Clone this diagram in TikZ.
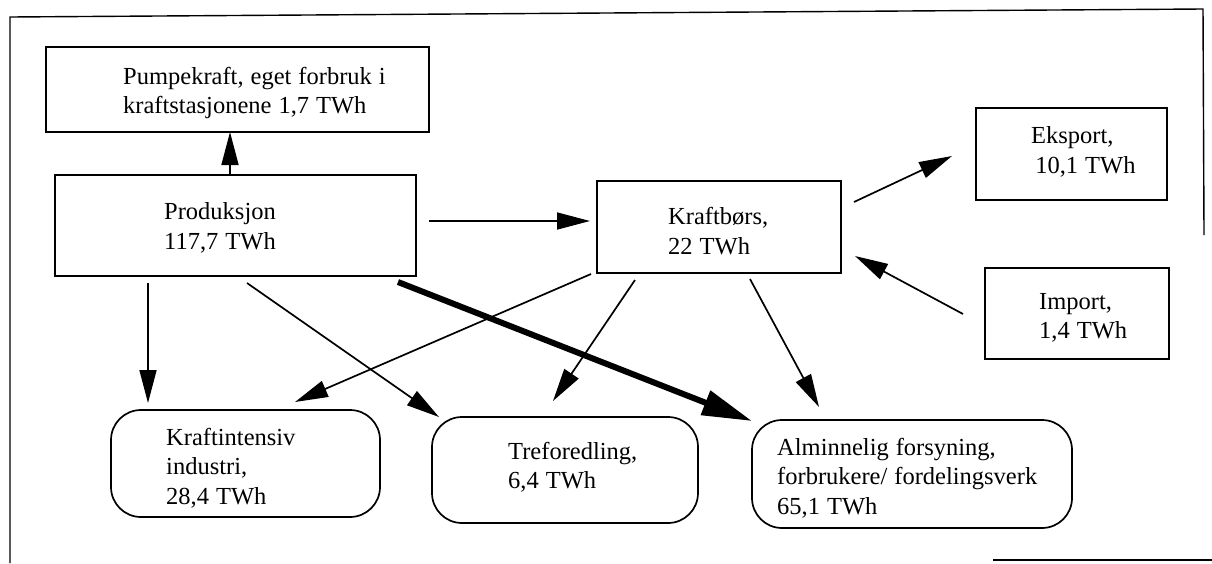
\documentclass[tikz,border=0pt]{standalone}
\usepackage{fontspec}
\setmainfont{Liberation Serif}
\usetikzlibrary{arrows.meta,calc}
\newcommand{\diagfont}{\fontsize{24.5}{29.5}\selectfont\spaceskip 7pt plus 1pt minus 1pt\relax}
\begin{document}
\begin{tikzpicture}[x=1pt,y=-1pt,
  frame/.style={line width=1.4pt},
  box/.style={draw, line width=1.7pt, anchor=north west, inner sep=0pt, outer sep=0pt},
  rbox/.style={box, rounded corners=30pt},
  txt/.style={anchor=west, align=left, inner sep=0pt, font={\diagfont}},
  arr/.style={line width=1.7pt, -{Triangle[length=33pt,width=17pt]}},
  bigarr/.style={line width=6pt, -{Triangle[length=50pt,width=25pt]}}]
\useasboundingbox (0,0) rectangle (1212,563);
% frame
\draw[frame] (10,563) -- (10,17) -- (1203,9) -- (1204,235);
\draw[frame] (993,560) -- (1212,560);
% boxes
\node[box, minimum width=383pt, minimum height=85pt] (pump) at (46,47) {};
\node[box, minimum width=361pt, minimum height=101pt] (prod) at (55,175) {};
\node[box, minimum width=244pt, minimum height=92pt] (kb) at (597,181) {};
\node[box, minimum width=191pt, minimum height=92pt] (eks) at (976,108) {};
\node[box, minimum width=184pt, minimum height=91pt] (imp) at (985,268) {};
\node[rbox, minimum width=269pt, minimum height=107pt] (kin) at (111,410) {};
\node[rbox, minimum width=266pt, minimum height=106pt] (tre) at (432,417) {};
\node[rbox, minimum width=320pt, minimum height=108pt] (alm) at (752,420) {};
% texts
\node[txt] (pumpt) at (123,93) {Pumpekraft, eget forbruk i\\kraftstasjonene 1,7 TWh};
\node[txt] (prodt) at (164,228) {Produksjon\\117,7 TWh};
\node[txt] (kbt) at (668,231) {Kraftbørs,\\22 TWh};
\node[txt] (ekst) at (1031,152) {Eksport,\\\,10,1 TWh};
\node[txt] (impt) at (1039,318) {Import,\\1,4 TWh};
\node[txt] (kint) at (166,468) {Kraftintensiv\\industri,\\28,4 TWh};
\node[txt] (tret) at (508,467) {Treforedling,\\6,4 TWh};
\node[txt] (almt) at (777,478) {Alminnelig forsyning,\\forbrukere/ fordelingsverk\\65,1 TWh};
% connectors
\draw[arr] ($(prod.north west)+(175,0)$) -- ($(pump.south west)+(184,0)$);
\draw[arr] ($(prod.north east)+(13,46)$) -- ($(kb.north west)+(-7,40)$);
\draw[arr] ($(kb.north east)+(13,21)$) -- ($(eks.north west)+(-24,48)$);
\draw[arr] ($(imp.north west)+(-22,46)$) -- ($(kb.south east)+(14,-17)$);
\draw[arr] ($(kb.south west)+(153,6)$) -- ($(alm.north west)+(67,-13)$);
\draw[arr] ($(kb.south west)+(38,7)$) -- ($(tre.north west)+(121,-16)$);
\draw[arr] ($(kb.south west)+(-6,1)$) -- ($(kin.north west)+(184,-8)$);
\draw[arr] ($(prod.south west)+(192,7)$) -- ($(tre.north west)+(7,0)$);
\draw[arr] ($(prod.south west)+(93,7)$) -- ($(kin.north west)+(37,-7)$);
\draw[bigarr] ($(prod.south east)+(-18,6)$) -- ($(alm.north west)+(0,1)$);
\end{tikzpicture}
\end{document}
